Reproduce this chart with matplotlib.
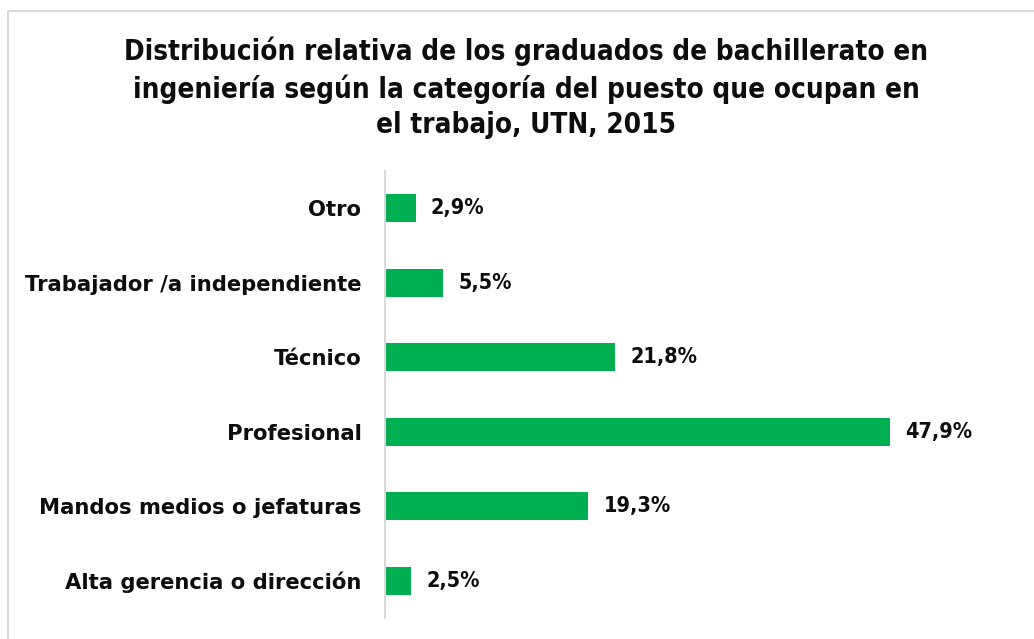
import matplotlib
matplotlib.use("Agg")
import matplotlib.pyplot as plt
from matplotlib.patches import Rectangle

categories = ["Alta gerencia o dirección", "Mandos medios o jefaturas", "Profesional",
              "Técnico", "Trabajador /a independiente", "Otro"]
values = [2.5, 19.3, 47.9, 21.8, 5.5, 2.9]
value_labels = ["2,5%", "19,3%", "47,9%", "21,8%", "5,5%", "2,9%"]
title = ("Distribución relativa de los graduados de bachillerato en\n"
         "ingeniería según la categoría del puesto que ocupan en\n"
         "el trabajo, UTN, 2015")

GREEN = "#00B050"
TXT = "#0d0d0d"
W, H = 1034, 639
fig = plt.figure(figsize=(W / 100, H / 100), dpi=100)
fig.patch.set_facecolor("white")

# outer frame (clipped at right/bottom)
fig.patches.append(Rectangle((7.5 / W, -0.05), 1.2, 1 - 10.5 / H + 0.05,
                             transform=fig.transFigure, fill=False,
                             edgecolor="#D9D9D9", linewidth=1.5))

ax = fig.add_axes([385 / W, 1 - 618 / H, 615 / W, (618 - 170.7) / H])
y = list(range(len(categories)))
ax.barh(y, values, height=0.375, color=GREEN)
ax.set_xlim(0, 615 / 10.54)
ax.set_ylim(-0.5, len(categories) - 0.5)

for yi, v, lab in zip(y, values, value_labels):
    ax.annotate(lab, (v, yi), xytext=(11, 0), textcoords="offset points",
                va="center", ha="left", fontsize=15.5, fontweight="bold",
                family="DejaVu Sans", fontstretch="condensed", color=TXT)

ax.set_yticks(y)
ax.set_yticklabels(categories, fontsize=15.2, fontweight="bold", color=TXT)
ax.tick_params(axis="y", length=0, pad=17)
ax.set_xticks([])
for s in ["top", "right", "bottom"]:
    ax.spines[s].set_visible(False)
ax.spines["left"].set_color("#D9D9D9")
ax.spines["left"].set_linewidth(1.5)

fig.text(526.5 / W, 1 - 88 / H, title, ha="center", va="center", fontsize=20,
         fontweight="bold", family="DejaVu Sans", fontstretch="condensed",
         linespacing=1.33, color=TXT)

fig.savefig("out.png", dpi=100)
